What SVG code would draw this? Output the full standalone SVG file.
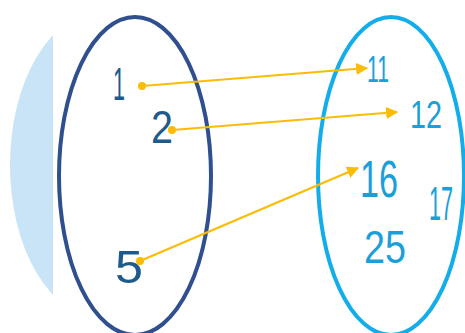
<svg xmlns="http://www.w3.org/2000/svg" width="465" height="333" viewBox="0 0 465 333">
<style>
.lab{font-family:"Liberation Sans",Arial,sans-serif;text-anchor:middle}
.l{fill:#1f5a8c}
.r{fill:#1a9fd8}
.arr{stroke:#fbbc05;stroke-width:2.2;fill:none}
</style>
<defs>
<clipPath id="cl"><rect x="0" y="0" width="53" height="333"/></clipPath>
<marker id="ah" viewBox="0 0 10 10" refX="9" refY="5" markerWidth="5.5" markerHeight="5.5" orient="auto" markerUnits="strokeWidth"><path d="M0,0 L10,5 L0,10 z" fill="#fbbc05"/></marker>
</defs>
<ellipse cx="100" cy="165" rx="90" ry="152" fill="#c9e4f6" clip-path="url(#cl)"/>
<g id="setA">
<ellipse cx="135" cy="176" rx="76" ry="159" fill="none" stroke="#2f4f8f" stroke-width="4"/>
</g>
<g id="setB">
<ellipse cx="391" cy="176" rx="73" ry="159" fill="none" stroke="#13aee9" stroke-width="4"/>
</g>
<g id="n1"><text class="lab l" x="119" y="100" font-size="46" textLength="12" lengthAdjust="spacingAndGlyphs">1</text></g>
<g id="n2"><text class="lab l" x="162" y="143" font-size="46" textLength="22" lengthAdjust="spacingAndGlyphs">2</text></g>
<g id="n5"><text class="lab l" x="129" y="283" font-size="46" textLength="28" lengthAdjust="spacingAndGlyphs">5</text></g>
<g id="n11"><text class="lab r" x="378" y="82" font-size="36" textLength="22" lengthAdjust="spacingAndGlyphs">11</text></g>
<g id="n12"><text class="lab r" x="426" y="128" font-size="38" textLength="32" lengthAdjust="spacingAndGlyphs">12</text></g>
<g id="n16"><text class="lab r" x="379" y="197" font-size="52" textLength="38" lengthAdjust="spacingAndGlyphs">16</text></g>
<g id="n17"><text class="lab r" x="441" y="220" font-size="48" textLength="24" lengthAdjust="spacingAndGlyphs">17</text></g>
<g id="n25"><text class="lab r" x="385" y="263" font-size="46" textLength="42" lengthAdjust="spacingAndGlyphs">25</text></g>
<g id="connectors">
<circle cx="142" cy="86" r="4" fill="#fbbc05"/>
<circle cx="172" cy="130" r="4" fill="#fbbc05"/>
<circle cx="140" cy="261" r="4" fill="#fbbc05"/>
<line class="arr" x1="142" y1="86" x2="367" y2="68" marker-end="url(#ah)"/>
<line class="arr" x1="172" y1="130" x2="397" y2="112" marker-end="url(#ah)"/>
<line class="arr" x1="140" y1="261" x2="358" y2="168" marker-end="url(#ah)"/>
</g>
</svg>
